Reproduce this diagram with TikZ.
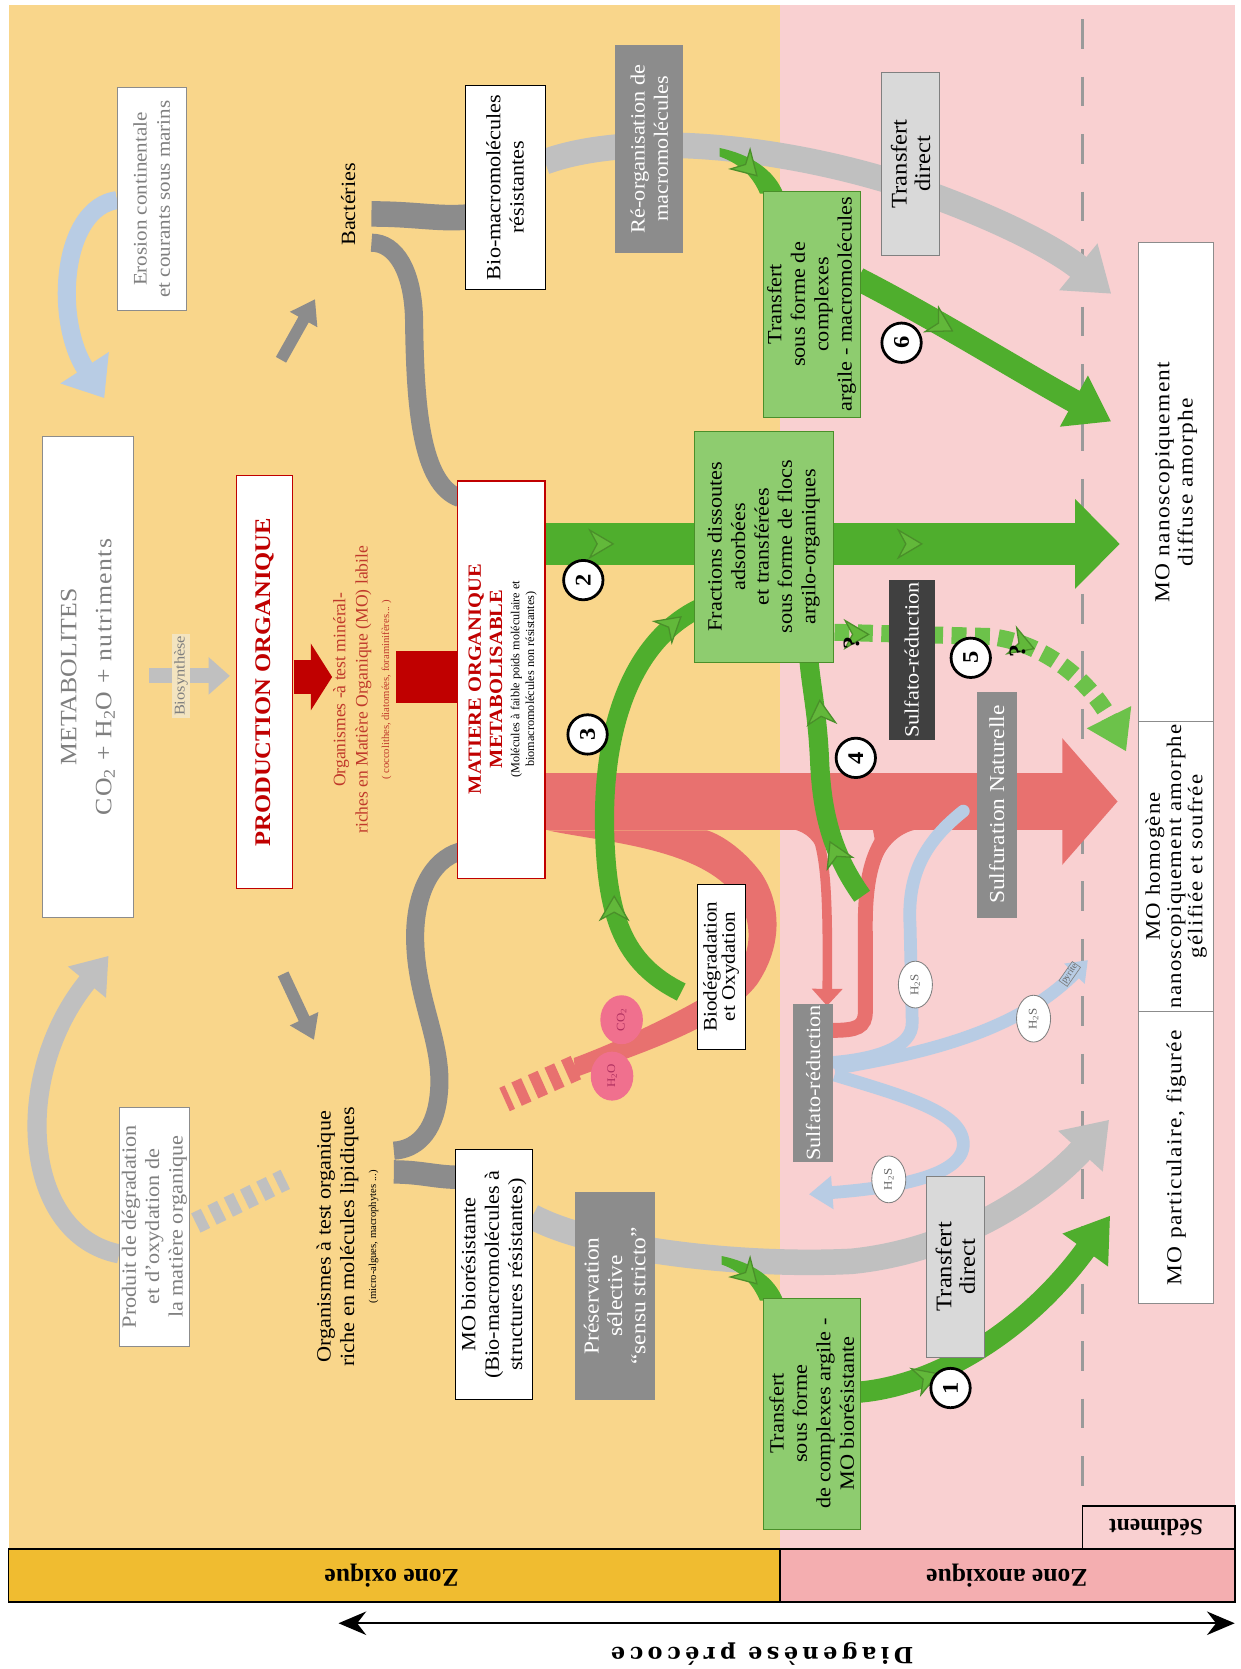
\documentclass[tikz,border=0pt]{standalone}
\usepackage{fontspec}
\setmainfont{Liberation Serif}[FakeStretch=1.1]
\newfontfamily\plain{Liberation Serif}
\newfontfamily\wide{Liberation Serif}[FakeStretch=1.1,LetterSpace=6]
\newfontfamily\slab{DejaVu Serif}[LetterSpace=20]
\usetikzlibrary{arrows.meta,shapes.geometric}
\definecolor{bgY}{HTML}{F9D68B}
\definecolor{bgP}{HTML}{F9D0D1}
\definecolor{bandY}{HTML}{F0BC30}
\definecolor{bandP}{HTML}{F4AEB0}
\definecolor{gdark}{HTML}{8C8C8C}
\definecolor{lgray}{HTML}{C0C0C0}
\definecolor{boxgray}{HTML}{D9D9D9}
\definecolor{darkbox}{HTML}{404040}
\definecolor{gstrong}{HTML}{4FAE2D}
\definecolor{gbox}{HTML}{8ECC6F}
\definecolor{gline}{HTML}{4A8F2A}
\definecolor{glight}{HTML}{6CC24A}
\definecolor{oarrfill}{HTML}{62B83A}
\definecolor{salmon}{HTML}{E8716F}
\definecolor{dred}{HTML}{C00000}
\definecolor{redtext}{HTML}{C0392B}
\definecolor{lblue}{HTML}{B8CCE4}
\definecolor{pinkc}{HTML}{F0708E}
\definecolor{pinktext}{HTML}{B03060}
\definecolor{txtgray}{HTML}{7F7F7F}
\definecolor{dashgray}{HTML}{9A9A9A}
\definecolor{biolab}{HTML}{F3E4C0}
\newcommand{\fsz}[2]{\fontsize{#1}{#2}\selectfont}
\tikzset{
  box/.style={rectangle, rotate=90, align=center, inner sep=1pt, line width=0.9pt},
  wbox/.style={box, fill=white, draw=black!45},
  kbox/.style={box, fill=white, draw=black},
  gbx/.style={box, fill=gbox, draw=gline},
  dbx/.style={box, fill=gdark, draw=none, text=white},
  lbx/.style={box, fill=boxgray, draw=black!50},
  rbx/.style={box, fill=white, draw=dred, line width=1.2pt},
  lbl/.style={rotate=90, align=center, inner sep=1pt},
  num/.style={circle, draw=black, line width=2.6pt, fill=white, minimum size=37pt, inner sep=0pt, font=\fsz{21}{21}\bfseries, rotate=90},
  hs/.style={ellipse, draw=black!50, fill=white, line width=0.8pt, minimum width=44pt, minimum height=32pt, inner sep=0pt, rotate=90, font=\fsz{11}{11}, text=black!60},
  pk/.style={ellipse, fill=pinkc, draw=none, minimum width=46pt, minimum height=40pt, inner sep=0pt, rotate=90, text=pinktext, font=\fsz{11}{11}},
  qm/.style={rotate=90, inner sep=0pt, font=\fsz{22}{22}\bfseries},
  oarr/.pic={\path[fill=oarrfill, draw=gline, line width=1.2pt] (-12,-13) -- (10,0) -- (-12,13) -- (-5,0) -- cycle;},
}
\begin{document}
\begin{tikzpicture}[x=1pt,y=-1pt,font=\fsz{19}{22}]
\useasboundingbox (0,0) rectangle (1165,1568);
\fill[white] (0,0) rectangle (1165,1568);
% backgrounds
\fill[bgY] (8,5) rectangle (733,1455);
\fill[bgP] (733,5) rectangle (1160,1455);
% dashed sediment line
\draw[dashgray, line width=3.5pt, dash pattern=on 28pt off 26pt] (1017,18) -- (1017,1412);

% ---------- gray (dark) Y shapes
\draw[gdark, line width=24pt] (349,201) .. controls (390,201) and (410,206) .. (438,204);
\draw[gdark, line width=17pt] (349,228) .. controls (372,228) and (388,255) .. (389,300) .. controls (390,380) and (395,455) .. (432,468);
\draw[gdark, line width=17pt] (432,800) .. controls (405,808) and (390,840) .. (390,880) .. controls (390,940) and (418,980) .. (412,1030) .. controls (408,1065) and (390,1080) .. (370,1081);
\draw[gdark, line width=22pt] (370,1101) .. controls (395,1101) and (410,1106) .. (430,1106);
% small gray arrows
\draw[gdark, line width=11pt, -{Triangle[width=28pt,length=22pt]}] (264,338) -- (296,281);
\draw[gdark, line width=11pt, -{Triangle[width=28pt,length=22pt]}] (266,915) -- (295,977);
% light blue erosion arrow
\draw[lblue, line width=17pt, -{Triangle[width=52pt,length=34pt]}] (110,188) .. controls (58,195) and (50,300) .. (98,374);
% gray recycling arrow
\draw[lgray, line width=18pt, -{Triangle[width=44pt,length=32pt]}] (112,1178) .. controls (20,1160) and (10,1010) .. (102,898);
\draw[lgray, line width=20pt, dash pattern=on 10pt off 7pt] (184,1149) -- (268,1108);
% biosynthese arrow
\draw[lgray, line width=14pt, -{Triangle[width=34pt,length=20pt]}] (140,635) -- (216,635);

% ---------- light gray long curves
\draw[lgray, line width=24pt, -{Triangle[width=54pt,length=40pt]}] (512,152) .. controls (600,120) and (760,140) .. (880,185) .. controls (960,215) and (1000,240) .. (1044,276);
\draw[lgray, line width=24pt, -{Triangle[width=54pt,length=40pt]}] (500,1143) .. controls (560,1175) and (700,1190) .. (800,1185) .. controls (900,1175) and (980,1120) .. (1042,1052);

% ---------- red
\draw[dred, line width=32pt, -{Triangle[width=62pt,length=20pt]}] (276,636) -- (312,636);
\fill[dred] (372,612) rectangle (430,660);
% salmon main
\draw[salmon, line width=54pt, -{Triangle[width=116pt,length=52pt]}] (512,753) -- (1050,753);
% salmon U
\fill[salmon] (514,780) .. controls (560,790) and (640,795) .. (680,830) .. controls (710,855) and (712,900) .. (680,925) .. controls (650,945) and (590,975) .. (539,994) -- (541,1012) .. controls (600,990) and (680,965) .. (711,925) .. controls (735,890) and (735,850) .. (715,820) .. controls (700,800) and (680,785) .. (664,780) -- cycle;
\draw[salmon, line width=24pt, dash pattern=on 10pt off 7pt] (541,1003) -- (474,1033);
% salmon fork
\fill[salmon] (745,779) -- (775,779) -- (771,805) .. controls (766,790) and (758,782) .. (745,779) -- cycle;
\draw[salmon, line width=9pt, -{Triangle[width=28pt,length=16pt]}] (764,776) .. controls (776,800) and (778,840) .. (777,945);
\fill[salmon] (820,779) -- (862,779) .. controls (845,782) and (832,795) .. (826,812) -- cycle;
\draw[salmon, line width=14pt] (838,778) .. controls (818,800) and (812,830) .. (813,880) -- (813,950) .. controls (813,965) and (805,968) .. (782,968);

% ---------- greens
% main horizontal
\draw[gstrong, line width=40pt, -{Triangle[width=82pt,length=42pt]}] (512,511) -- (1052,511);
\pic[rotate=0] at (566,511) {oarr};
\pic[rotate=0] at (856,511) {oarr};
% arrow 3
\draw[gstrong, line width=18pt] (640,932) .. controls (585,905) and (570,860) .. (568,780) .. controls (566,690) and (590,605) .. (656,572);
\pic[rotate=90] at (577,852) {oarr};
\pic[rotate=40] at (632,586) {oarr};
% arrow 4
\draw[gstrong, line width=18pt] (810,842) .. controls (780,800) and (772,760) .. (770,715) .. controls (768,670) and (762,645) .. (760,620);
\pic[rotate=115] at (784,800) {oarr};
\pic[rotate=95] at (771,668) {oarr};
% wedges into green boxes
\fill[gstrong] (676,139) .. controls (705,145) and (728,160) .. (736,182) -- (714,182) .. controls (708,168) and (698,155) .. (676,147) -- cycle;
\pic[rotate=-45] at (704,158) {oarr};
\fill[gstrong] (678,1180) .. controls (707,1186) and (728,1200) .. (736,1222) -- (714,1222) .. controls (708,1208) and (698,1195) .. (678,1188) -- cycle;
\pic[rotate=-45] at (704,1199) {oarr};
% arrow 6
\draw[gstrong, line width=22pt, -{Triangle[width=52pt,length=40pt]}] (806,262) .. controls (880,300) and (960,350) .. (1044,396);
\pic[rotate=-29] at (886,306) {oarr};
% arrow 1
\draw[gstrong, line width=20pt, -{Triangle[width=50pt,length=40pt]}] (806,1308) .. controls (880,1302) and (965,1250) .. (1043,1142);
\pic[rotate=20] at (872,1294) {oarr};
% dashed arrow 5
\draw[glight, line width=16pt, dash pattern=on 14pt off 8pt, -{Triangle[width=44pt,length=36pt]}] (784,594) -- (930,598) .. controls (990,605) and (1030,650) .. (1058,706);
\pic[rotate=0] at (806,596) {oarr};
\pic[rotate=-20] at (962,606) {oarr};
\node[qm] (q1) at (800,604) {?};
\node[qm] (q2) at (956,612) {?};

% ---------- blue
\draw[lblue, line width=12pt, line cap=round] (905,762) .. controls (870,790) and (852,820) .. (855,870) -- (857,960) .. controls (858,985) and (820,995) .. (784,998);
\draw[lblue, line width=12pt, -{Triangle[width=26pt,length=18pt]}] (784,1004) .. controls (850,992) and (950,975) .. (1022,902);
\draw[lblue, line width=12pt, -{Triangle[width=30pt,length=22pt]}] (784,1010) .. controls (850,1030) and (905,1045) .. (905,1075) .. controls (905,1105) and (840,1116) .. (760,1122);

% ---------- boxes
\node[wbox, text=txtgray, font=\fsz{18}{22}, minimum width=210pt, minimum height=65pt] (erosion) at (142.5,187) {Erosion continentale\\et courants sous marins};
\node[wbox, text=txtgray, font=\fsz{22}{33}, minimum width=452pt, minimum height=85pt] (metab) at (82.5,636) {METABOLITES\\{\wide CO\textsubscript{2} + H\textsubscript{2}O + nutriments}};
\node[lbl, fill=biolab, text=txtgray, font=\fsz{14}{16}, inner sep=2pt] (biosyn) at (170,635) {Biosynthèse};
\node[rbx, text=dred, font=\fsz{21}{24}\bfseries, minimum width=388pt, minimum height=53pt] (prod) at (248.5,641) {PRODUCTION ORGANIQUE};
\node[lbl, text=redtext, font=\plain\fsz{16.5}{21}] (orgmin) at (331,648) {Organismes -à test minéral-\\riches en Matière Organique (MO) labile};
\node[lbl, text=redtext, font=\plain\fsz{10}{12}] (orgmin2) at (363,648) {( coccolithes, diatomées, foraminifères... )};
\node[rbx, minimum width=373pt, minimum height=82pt] (matiere) at (471,638.5) {};
\node[lbl, text=dred, font=\fsz{17.5}{20}\bfseries] (mattxt) at (456,638) {MATIERE ORGANIQUE\\METABOLISABLE};
\node[lbl, font=\plain\fsz{11.5}{14}] (mattxt2) at (492,638) {(Molécules à faible poids moléculaire et\\biomacromolécules non résistantes)};
\node[lbl] (bact) at (327,192) {Bactéries};
\node[kbox, minimum width=192pt, minimum height=75pt] (biomacro) at (474.5,176) {Bio-macromolécules\\résistantes};
\node[dbx, minimum width=196pt, minimum height=64pt] (reorg) at (610,140) {Ré-organisation de\\macromolécules};
\node[lbx, font=\fsz{21}{22}, minimum width=172pt, minimum height=55pt] (tdtop) at (855.5,154) {Transfert\\direct};
\node[gbx, minimum width=212pt, minimum height=91pt] (g6) at (762.5,286) {Transfert\\sous forme de\\complexes\\argile - macromolécules};
\node[gbx, minimum width=217pt, minimum height=131pt] (frac) at (717.5,513.5) {Fractions dissoutes\\adsorbées\\et transférées\\sous forme de flocs\\argilo-organiques};
\node[box, fill=darkbox, text=white, minimum width=150pt, minimum height=43pt] (sulf1) at (856.5,620) {Sulfato-réduction};
\node[dbx, font=\fsz{20}{22}, minimum width=212pt, minimum height=37pt] (sulfnat) at (936.5,756) {Sulfuration Naturelle};
\node[dbx, minimum width=145pt, minimum height=38pt] (sulf2) at (764,1017.5) {Sulfato-réduction};
\node[kbox, font=\fsz{18}{17}, minimum width=155pt, minimum height=45pt] (biodeg) at (677.5,908) {Biodégradation\\et Oxydation};
\node[pk] (co2) at (584,958) {CO\textsubscript{2}};
\node[pk] (h2o) at (575,1011) {H\textsubscript{2}O};
\node[hs] (hs1) at (860,925) {H\textsubscript{2}S};
\node[hs] (hs2) at (971,957) {H\textsubscript{2}S};
\node[hs] (hs3) at (835,1108) {H\textsubscript{2}S};
\node[rectangle, rotate=55, fill=lblue, draw=black!50, line width=0.6pt, inner sep=1pt, font=\plain\fsz{8.5}{9}, text=black!60] (pyr) at (1005,915) {pyrite};
\node[wbox, font=\wide\fsz{20}{22}, minimum width=450pt, minimum height=70pt] (mo1) at (1105,453) {MO nanoscopiquement\\diffuse amorphe};
\node[wbox, font=\wide\fsz{19.5}{20}, minimum width=272pt, minimum height=70pt] (mo2) at (1105,814) {MO homogène\\nanoscopiquement amorphe\\gélifiée et soufrée};
\node[wbox, font=\wide\fsz{20}{22}, minimum width=275pt, minimum height=70pt] (mo3) at (1105,1087.5) {MO particulaire, figurée};
\node[dbx, font=\fsz{20}{22}, minimum width=195pt, minimum height=75pt] (pres) at (577.5,1217.5) {Préservation\\sélective\\“sensu stricto”};
\node[lbx, font=\fsz{21}{22}, minimum width=170pt, minimum height=55pt] (tdlow) at (897.5,1190) {Transfert\\direct};
\node[kbox, minimum width=235pt, minimum height=72pt] (mobio) at (464,1197.5) {MO biorésistante\\(Bio-macromolécules à\\structures résistantes)};
\node[gbx, minimum width=217pt, minimum height=91pt] (glow) at (762.5,1328) {Transfert\\sous forme\\de complexes argile -\\MO biorésistante};
\node[wbox, text=txtgray, minimum width=225pt, minimum height=66pt] (produit) at (145,1152.5) {Produit de dégradation\\et d'oxydation de\\la matière organique};
\node[lbl] (orgorg) at (317,1162) {Organismes à test organique\\riche en molécules lipidiques};
\node[lbl, font=\plain\fsz{10}{12}] (orgorg2) at (351,1162) {(micro-algues, macrophytes ...)};

% numbers
\node[num] (n1) at (893,1304) {1};
\node[num] (n2) at (548,545) {2};
\node[num] (n3) at (552,690) {3};
\node[num] (n4) at (804,712) {4};
\node[num] (n5) at (912,618) {5};
\node[num] (n6) at (847,322) {6};

% ---------- bottom bands
\draw[black, line width=1.5pt, fill=bandY] (8,1455) rectangle (733,1505);
\draw[black, line width=1.5pt, fill=bandP] (733,1455) rectangle (1160,1505);
\draw[black, line width=1.5pt, fill=bgP] (1017,1415) rectangle (1160,1455);
\node[rotate=180, font=\plain\fsz{24}{24}\bfseries] (zox) at (368,1480) {Zone oxique};
\node[rotate=180, font=\plain\fsz{24}{24}\bfseries] (zan) at (946,1480) {Zone anoxique};
\node[rotate=180, font=\plain\fsz{22}{22}\bfseries] (sed) at (1086,1435) {Sédiment};
\coordinate (dl) at (318,1525);
\coordinate (dr) at (1160,1525);
\draw[black, line width=2.2pt, {Stealth[length=26pt,width=22pt]}-{Stealth[length=26pt,width=22pt]}] (dl) -- (dr);
\node[rotate=180, font=\slab\fsz{21}{21}\bfseries] (diag) at (716,1554) {Diagenèse précoce};
\end{tikzpicture}
\end{document}
